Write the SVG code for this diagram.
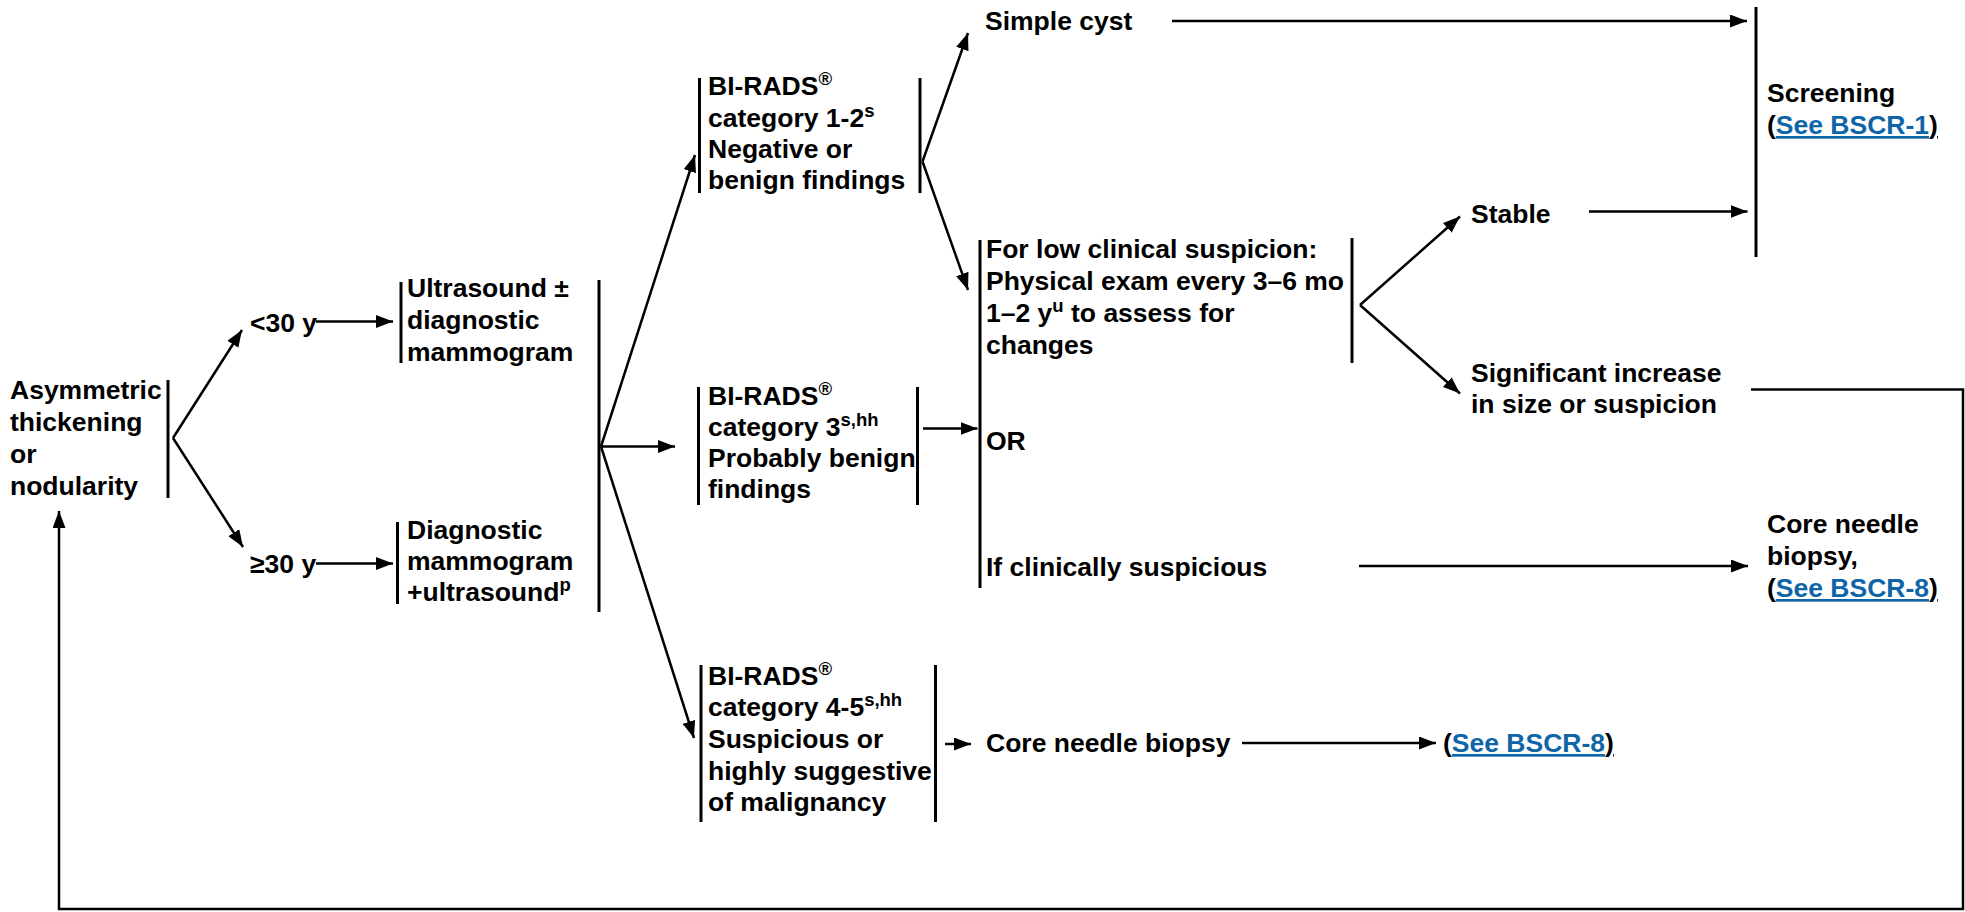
<svg xmlns="http://www.w3.org/2000/svg" width="1965" height="912" viewBox="0 0 1965 912">
<defs>
<style>
text{font-family:"Liberation Sans",Arial,Helvetica,sans-serif;font-weight:bold;font-size:26.5px;fill:#000}
.sup{font-size:18.5px}
.link{fill:#0e65a7;text-decoration:underline}
.paren{text-decoration:underline}
.bar{stroke:#000;stroke-width:3;fill:none}
.ln{stroke:#000;stroke-width:2.5;fill:none}
.arr{stroke:#000;stroke-width:2.5;fill:none;marker-end:url(#ah)}
</style>
<marker id="ah" markerUnits="userSpaceOnUse" markerWidth="17" markerHeight="13" refX="17" refY="6.5" orient="auto">
<path d="M0,0 L17,6.5 L0,13 z" fill="#000"/>
</marker>
</defs>
<rect width="1965" height="912" fill="#fff"/>

<g id="connectors">
<path class="arr" d="M173,438 L242,330"/>
<path class="arr" d="M173,438 L243,547"/>
<path class="arr" d="M316,321.5 L393,321.5"/>
<path class="arr" d="M316,563.5 L393,563.5"/>
<path class="bar" d="M599,280 L599,612"/>
<path class="arr" d="M601,446.5 L695,155"/>
<path class="arr" d="M601,446.5 L675,446.5"/>
<path class="arr" d="M601,446.5 L694,738"/>
<path class="arr" d="M922.5,161.5 L968,33"/>
<path class="arr" d="M922.5,161.5 L968,290"/>
<path class="arr" d="M923,428.5 L977.5,428.5"/>
<path class="arr" d="M945,744 L971,744"/>
<path class="arr" d="M1172,21 L1747,21"/>
<path class="arr" d="M1360,305 L1460,216.5"/>
<path class="arr" d="M1360,305 L1460,393.5"/>
<path class="arr" d="M1589,211.5 L1747.5,211.5"/>
<path class="arr" d="M1359,566 L1748,566"/>
<path class="arr" d="M1242,743 L1436,743"/>
<path class="arr" d="M1751,389.5 L1963,389.5 L1963,909 L59,909 L59,511"/>
</g>

<g id="n-asymmetric">
<text x="10" y="399">Asymmetric</text>
<text x="10" y="431">thickening</text>
<text x="10" y="463">or</text>
<text x="10" y="495">nodularity</text>
<path class="bar" d="M168,380 L168,498"/>
</g>

<g id="n-lt30">
<text x="250" y="332">&lt;30 y</text>
</g>

<g id="n-ge30">
<text x="250" y="573">≥30 y</text>
</g>

<g id="n-ultrasound">
<path class="bar" d="M401,282 L401,363"/>
<text x="407" y="297">Ultrasound ±</text>
<text x="407" y="329">diagnostic</text>
<text x="407" y="361">mammogram</text>
</g>

<g id="n-diagnostic">
<path class="bar" d="M397.5,522 L397.5,604"/>
<text x="407" y="539">Diagnostic</text>
<text x="407" y="570">mammogram</text>
<text x="407" y="601">+ultrasound<tspan class="sup" dy="-10">p</tspan></text>
</g>

<g id="n-birads12">
<path class="bar" d="M699.5,78 L699.5,193"/>
<path class="bar" d="M920,78 L920,193"/>
<text x="708" y="95">BI-RADS<tspan class="sup" dy="-10">®</tspan></text>
<text x="708" y="127">category 1-2<tspan class="sup" dy="-10">s</tspan></text>
<text x="708" y="158">Negative or</text>
<text x="708" y="189">benign findings</text>
</g>

<g id="n-birads3">
<path class="bar" d="M698.5,387 L698.5,505"/>
<path class="bar" d="M917.5,387 L917.5,505"/>
<text x="708" y="405">BI-RADS<tspan class="sup" dy="-10">®</tspan></text>
<text x="708" y="436">category 3<tspan class="sup" dy="-10">s,hh</tspan></text>
<text x="708" y="467">Probably benign</text>
<text x="708" y="498">findings</text>
</g>

<g id="n-birads45">
<path class="bar" d="M701,665 L701,822"/>
<path class="bar" d="M935.5,665 L935.5,822"/>
<text x="708" y="685">BI-RADS<tspan class="sup" dy="-10">®</tspan></text>
<text x="708" y="716">category 4-5<tspan class="sup" dy="-10">s,hh</tspan></text>
<text x="708" y="748">Suspicious or</text>
<text x="708" y="780">highly suggestive</text>
<text x="708" y="811">of malignancy</text>
</g>

<g id="n-simplecyst">
<text x="985" y="30">Simple cyst</text>
</g>

<g id="n-lowsuspicion">
<path class="bar" d="M980,240 L980,588"/>
<path class="bar" d="M1352,238 L1352,363"/>
<text x="986" y="258">For low clinical suspicion:</text>
<text x="986" y="290">Physical exam every 3–6 mo</text>
<text x="986" y="322">1–2 y<tspan class="sup" dy="-10">u</tspan><tspan dy="10"> to assess for</tspan></text>
<text x="986" y="354">changes</text>
</g>

<g id="n-or">
<text x="986" y="450">OR</text>
</g>

<g id="n-ifsuspicious">
<text x="986" y="576">If clinically suspicious</text>
</g>

<g id="n-stable">
<text x="1471" y="223">Stable</text>
</g>

<g id="n-increase">
<text x="1471" y="382">Significant increase</text>
<text x="1471" y="413">in size or suspicion</text>
</g>

<g id="n-screening">
<path class="bar" d="M1756,7 L1756,257"/>
<text x="1767" y="102">Screening</text>
<text x="1767" y="134"><tspan class="paren">(</tspan><tspan class="link">See BSCR-1</tspan><tspan class="paren">)</tspan></text>
</g>

<g id="n-corebiopsy-right">
<text x="1767" y="533">Core needle</text>
<text x="1767" y="565">biopsy,</text>
<text x="1767" y="597"><tspan class="paren">(</tspan><tspan class="link">See BSCR-8</tspan><tspan class="paren">)</tspan></text>
</g>

<g id="n-corebiopsy-bottom">
<text x="986" y="752">Core needle biopsy</text>
</g>

<g id="n-bscr8-bottom">
<text x="1443" y="752"><tspan class="paren">(</tspan><tspan class="link">See BSCR-8</tspan><tspan class="paren">)</tspan></text>
</g>
</svg>
